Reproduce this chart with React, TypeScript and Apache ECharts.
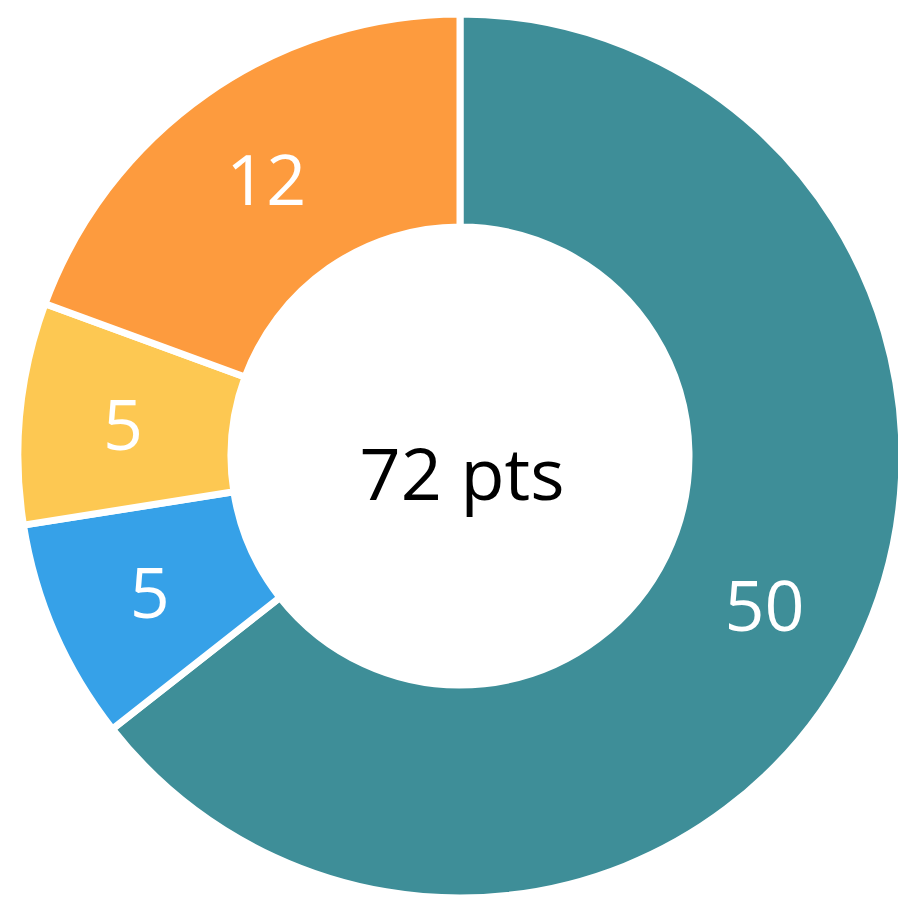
import React, { useEffect, useRef } from "react";
import * as echarts from "echarts";

const categories = ["A", "B", "C", "D"];
// slice shares (percent of the ring)
const sliceShares = [64.4, 8.1, 8.1, 19.4];
// numbers printed on the slices
const sliceLabels = [50, 5, 5, 12];
const colors = ["#3E8E98", "#36A1E8", "#FDC852", "#FD9B3E"];
const centerText = "72 pts";

export default function App() {
  const ref = useRef<HTMLDivElement>(null);
  useEffect(() => {
    if (!ref.current) return;
    const chart = echarts.init(ref.current, undefined, { renderer: "svg" });
    chart.setOption({
      animation: false,
      backgroundColor: "#ffffff",
      graphic: [
        {
          type: "text",
          x: 462,
          y: 472,
          style: {
            text: centerText,
            fill: "#000000",
            font: '72px "Open Sans"',
            align: "center",
            verticalAlign: "middle",
          },
        },
      ],
      series: [
        {
          type: "pie",
          center: [460, 456],
          radius: [229, 442],
          startAngle: 90,
          clockwise: true,
          avoidLabelOverlap: false,
          itemStyle: { borderColor: "#ffffff", borderWidth: 7 },
          label: {
            show: true,
            position: "inside",
            color: "#ffffff",
            fontFamily: "Open Sans",
            fontSize: 70,
            textBorderWidth: 0,
            formatter: (p: any) => String(sliceLabels[p.dataIndex]),
          },
          labelLine: { show: false },
          emphasis: { disabled: true },
          data: categories.map((c, i) => ({
            name: c,
            value: sliceShares[i],
            itemStyle: { color: colors[i] },
          })),
        },
      ],
    });
    return () => chart.dispose();
  }, []);
  return (
    <div
      ref={ref}
      style={{ position: "fixed", left: 0, top: 0, width: 898, height: 898 }}
    />
  );
}
